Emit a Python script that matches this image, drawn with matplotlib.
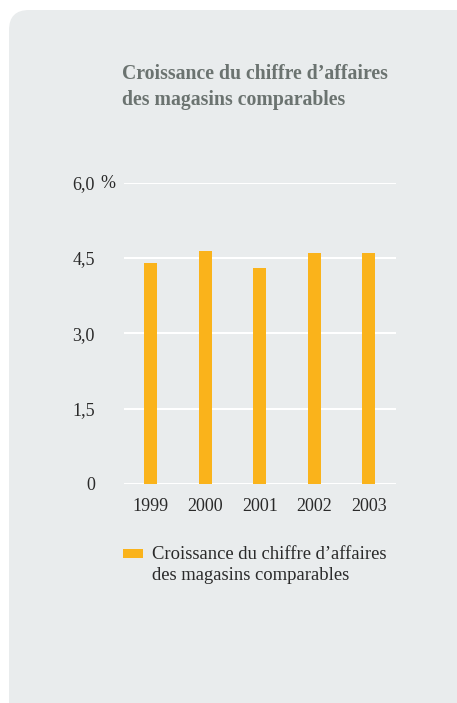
import matplotlib.pyplot as plt
from matplotlib.patches import FancyBboxPatch, Rectangle
from matplotlib.transforms import IdentityTransform

years = ["1999", "2000", "2001", "2002", "2003"]
growth = [4.40, 4.64, 4.30, 4.60, 4.60]
yticks = [0, 1.5, 3.0, 4.5, 6.0]
ytick_labels = ["0", "1,5", "3,0", "4,5", "6,0"]
label = "Croissance du chiffre d\u2019affaires\ndes magasins comparables"

orange = "#fab31b"
panel = "#e9eced"
dark = "#2a2a2a"
W, H = 457, 703

plt.rcParams['font.family'] = ['Liberation Serif', 'DejaVu Serif']

fig = plt.figure(figsize=(W / 100, H / 100), dpi=100)
fig.patch.set_facecolor("white")

# rounded panel behind everything (pixel coords)
bg = FancyBboxPatch((29, -40), W, 713,
                    boxstyle="round,pad=20", transform=IdentityTransform(),
                    facecolor=panel, edgecolor="none", zorder=0)
fig.add_artist(bg)

ax = fig.add_axes([124 / W, (H - 484) / H, (396 - 124) / W, (484 - 182.5) / H])
ax.set_facecolor("none")
x = range(len(years))
ax.bar(x, growth, width=0.24, color=orange, zorder=3)
ax.set_xlim(-0.49, 4.5)
ax.set_ylim(0, 6)
ax.set_yticks(yticks)
ax.set_yticklabels(ytick_labels)
ax.set_xticks(list(x))
ax.set_xticklabels(years)
for s in ax.spines.values():
    s.set_visible(False)
ax.tick_params(axis="y", length=0, pad=21, labelsize=13, labelcolor=dark)
ax.tick_params(axis="x", length=0, pad=10, labelsize=13, labelcolor=dark)
for yv in yticks:
    ax.axhline(yv, color="white", lw=1.5, zorder=1)
ax.text(100 / W, (H - 183) / H, "%", transform=fig.transFigure,
        ha="left", va="center", fontsize=13, color=dark)

fig.text(122 / W, (H - 64) / H, label, ha="left", va="top",
         fontsize=14.2, fontweight="bold", color="#6b7370", linespacing=1.4)

fig.add_artist(Rectangle((123 / W, (H - 558) / H), 20 / W, 9 / H,
                         transform=fig.transFigure, facecolor=orange,
                         edgecolor="none"))
fig.text(152 / W, (H - 546) / H, label, ha="left", va="top",
         fontsize=13.4, color=dark, linespacing=1.3)

fig.savefig("out.png", dpi=100)
